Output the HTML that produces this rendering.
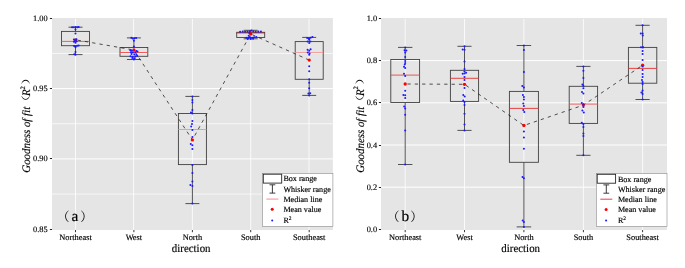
<!DOCTYPE html>
<html lang="en">
<head>
<meta charset="utf-8">
<title>Goodness of fit by direction</title>
<style>
html,body{margin:0;padding:0;background:#fff;}
body{width:685px;height:268px;overflow:hidden;}
svg{display:block;}
text{font-family:"Liberation Serif", "Noto Serif CJK SC", serif;fill:#000;stroke:#000;stroke-width:0.15px;text-rendering:geometricPrecision;}
.tk{font-size:8.35px;}
.xt{font-size:11.4px;}
.yt{font-size:11.4px;font-style:italic;}
.yp{font-size:8.9px;stroke:none;}
.ys{font-size:6.8px;}
.lab{font-size:15.3px;stroke-width:0.2px;}
.par{font-size:12.5px;stroke:none;}
.lg{font-size:8.1px;}
</style>
</head>
<body>
<svg width="685" height="268" viewBox="0 0 685 268">
<rect width="685" height="268" fill="#fff"/>
<g class="panel">
<rect x="52" y="18" width="280.9" height="212" fill="#e5e5e5"/>
<line x1="52" x2="332.9" y1="53.42" y2="53.42" stroke="#ffffff" stroke-width="0.7"/>
<line x1="52" x2="332.9" y1="123.75" y2="123.75" stroke="#ffffff" stroke-width="0.7"/>
<line x1="52" x2="332.9" y1="194.08" y2="194.08" stroke="#ffffff" stroke-width="0.7"/>
<line x1="52" x2="332.9" y1="88.58" y2="88.58" stroke="#ffffff" stroke-width="1"/>
<line x1="52" x2="332.9" y1="158.92" y2="158.92" stroke="#ffffff" stroke-width="1"/>
<line x1="75.5" x2="75.5" y1="19" y2="230" stroke="#ffffff" stroke-width="0.8"/>
<line x1="133.6" x2="133.6" y1="19" y2="230" stroke="#ffffff" stroke-width="0.8"/>
<line x1="192.4" x2="192.4" y1="19" y2="230" stroke="#ffffff" stroke-width="0.8"/>
<line x1="250.7" x2="250.7" y1="19" y2="230" stroke="#ffffff" stroke-width="0.8"/>
<line x1="309" x2="309" y1="19" y2="230" stroke="#ffffff" stroke-width="0.8"/>
<line x1="75.5" x2="75.5" y1="230" y2="232.2" stroke="#222" stroke-width="0.9"/>
<line x1="133.9" x2="133.9" y1="230" y2="232.2" stroke="#222" stroke-width="0.9"/>
<line x1="192.4" x2="192.4" y1="230" y2="232.2" stroke="#222" stroke-width="0.9"/>
<line x1="250.7" x2="250.7" y1="230" y2="232.2" stroke="#222" stroke-width="0.9"/>
<line x1="309.2" x2="309.2" y1="230" y2="232.2" stroke="#222" stroke-width="0.9"/>
<line x1="49.9" x2="52" y1="18.5" y2="18.5" stroke="#222" stroke-width="1"/>
<text x="47.7" y="21.2" text-anchor="end" class="tk">1.00</text>
<line x1="49.9" x2="52" y1="88.5" y2="88.5" stroke="#222" stroke-width="1"/>
<text x="47.7" y="91.2" text-anchor="end" class="tk">0.95</text>
<line x1="49.9" x2="52" y1="158.5" y2="158.5" stroke="#222" stroke-width="1"/>
<text x="47.7" y="161.2" text-anchor="end" class="tk">0.90</text>
<line x1="49.9" x2="52" y1="229.5" y2="229.5" stroke="#222" stroke-width="1"/>
<text x="47.7" y="232.2" text-anchor="end" class="tk">0.85</text>
<text x="75.5" y="239.9" text-anchor="middle" class="tk">Northeast</text>
<text x="133.9" y="239.9" text-anchor="middle" class="tk">West</text>
<text x="192.4" y="239.9" text-anchor="middle" class="tk">North</text>
<text x="250.7" y="239.9" text-anchor="middle" class="tk">South</text>
<text x="309.2" y="239.9" text-anchor="middle" class="tk">Southeast</text>
<text transform="translate(191.2,252.2) scale(0.955,1)" text-anchor="middle" class="xt">direction</text>
<g transform="translate(30,172.1) rotate(-90)">
<text transform="translate(-0.6,0) scale(0.955,1)" class="yt">Goodness of fit</text>
<text transform="translate(63.5,-1.0) scale(1.5,1)" class="yp">（</text>
<text transform="translate(76.2,0) scale(0.955,1)" class="yt">R</text>
<text x="82.6" y="-5.4" class="ys">2</text>
<text transform="translate(87.6,-1.0) scale(1.5,1)" class="yp">）</text>
</g>
<path d="M75.5 27.2V31.4M75.5 45.7V54.6M68.5 27.2H82.5M68.5 54.6H82.5" stroke="#404040" stroke-width="0.9" fill="none"/>
<rect x="61.5" y="31.4" width="28" height="14.3" stroke="#404040" stroke-width="0.9" fill="none"/>
<line x1="61.5" x2="89.5" y1="41.4" y2="41.4" stroke="#f84848" stroke-width="0.9"/>
<path d="M133.9 37.9V47.5M133.9 56.3V59.5M126.95 37.9H140.85M126.95 59.5H140.85" stroke="#404040" stroke-width="0.9" fill="none"/>
<rect x="120" y="47.5" width="27.8" height="8.8" stroke="#404040" stroke-width="0.9" fill="none"/>
<line x1="120" x2="147.8" y1="52.5" y2="52.5" stroke="#f84848" stroke-width="0.9"/>
<path d="M192.4 96.4V113.5M192.4 164.6V203.6M185.4 96.4H199.4M185.4 203.6H199.4" stroke="#404040" stroke-width="0.9" fill="none"/>
<rect x="178.4" y="113.5" width="28" height="51.1" stroke="#404040" stroke-width="0.9" fill="none"/>
<line x1="178.4" x2="206.4" y1="129.5" y2="129.5" stroke="#f79090" stroke-width="0.9"/>
<path d="M250.7 30.3V32.3M250.7 37.5V38.8M243.7 30.3H257.7M243.7 38.8H257.7" stroke="#404040" stroke-width="0.9" fill="none"/>
<rect x="236.7" y="32.3" width="28" height="5.2" stroke="#404040" stroke-width="0.9" fill="none"/>
<line x1="236.7" x2="264.7" y1="32.9" y2="32.9" stroke="#b02020" stroke-width="0.9"/>
<path d="M309.2 37.4V41.6M309.2 79.3V95.4M302.2 37.4H316.2M302.2 95.4H316.2" stroke="#404040" stroke-width="0.9" fill="none"/>
<rect x="295.2" y="41.6" width="28" height="37.7" stroke="#404040" stroke-width="0.9" fill="none"/>
<line x1="295.2" x2="323.2" y1="52.6" y2="52.6" stroke="#f79090" stroke-width="0.9"/>
<polyline points="75.5,39.8 133.9,50 192.4,139.9 250.7,34 309.2,60.1" stroke="#1a1a1a" stroke-width="0.75" stroke-dasharray="3.3 4.06" stroke-dashoffset="-2.2" fill="none"/>
<circle cx="75.5" cy="39.8" r="1.65" fill="#ff0000"/>
<circle cx="133.9" cy="50" r="1.65" fill="#ff0000"/>
<circle cx="192.4" cy="139.9" r="1.65" fill="#ff0000"/>
<circle cx="250.7" cy="34" r="1.65" fill="#ff0000"/>
<circle cx="309.2" cy="60.1" r="1.65" fill="#ff0000"/>
<circle cx="72.1" cy="27.2" r="1.02" fill="#1a1aff"/>
<circle cx="73.9" cy="27.3" r="1.02" fill="#1a1aff"/>
<circle cx="75.7" cy="27" r="1.02" fill="#1a1aff"/>
<circle cx="77.3" cy="27.3" r="1.02" fill="#1a1aff"/>
<circle cx="78.7" cy="27.1" r="1.02" fill="#1a1aff"/>
<circle cx="75.5" cy="29.6" r="1.02" fill="#1a1aff"/>
<circle cx="75.5" cy="33.6" r="1.02" fill="#1a1aff"/>
<circle cx="73.9" cy="39.6" r="1.02" fill="#1a1aff"/>
<circle cx="76.4" cy="39.2" r="1.02" fill="#1a1aff"/>
<circle cx="74.9" cy="41" r="1.02" fill="#1a1aff"/>
<circle cx="76.7" cy="41.3" r="1.02" fill="#1a1aff"/>
<circle cx="73.9" cy="41.8" r="1.02" fill="#1a1aff"/>
<circle cx="75.5" cy="42.8" r="1.02" fill="#1a1aff"/>
<circle cx="74.1" cy="45.9" r="1.02" fill="#1a1aff"/>
<circle cx="75.7" cy="46.3" r="1.02" fill="#1a1aff"/>
<circle cx="77.3" cy="45.7" r="1.02" fill="#1a1aff"/>
<circle cx="78.7" cy="45.5" r="1.02" fill="#1a1aff"/>
<circle cx="75.5" cy="47.3" r="1.02" fill="#1a1aff"/>
<circle cx="75.5" cy="52" r="1.02" fill="#1a1aff"/>
<circle cx="74.3" cy="54.2" r="1.02" fill="#1a1aff"/>
<circle cx="75.5" cy="54.8" r="1.02" fill="#1a1aff"/>
<circle cx="131.3" cy="37.8" r="1.02" fill="#1a1aff"/>
<circle cx="132.7" cy="38.4" r="1.02" fill="#1a1aff"/>
<circle cx="134.5" cy="38.2" r="1.02" fill="#1a1aff"/>
<circle cx="136.1" cy="37.9" r="1.02" fill="#1a1aff"/>
<circle cx="133.9" cy="40.8" r="1.02" fill="#1a1aff"/>
<circle cx="133.9" cy="46.6" r="1.02" fill="#1a1aff"/>
<circle cx="130.3" cy="50.3" r="1.02" fill="#1a1aff"/>
<circle cx="131.9" cy="50.8" r="1.02" fill="#1a1aff"/>
<circle cx="136.3" cy="50.9" r="1.02" fill="#1a1aff"/>
<circle cx="137.5" cy="51.4" r="1.02" fill="#1a1aff"/>
<circle cx="130.9" cy="52.2" r="1.02" fill="#1a1aff"/>
<circle cx="132.9" cy="52.6" r="1.02" fill="#1a1aff"/>
<circle cx="135.3" cy="52.4" r="1.02" fill="#1a1aff"/>
<circle cx="131.5" cy="54" r="1.02" fill="#1a1aff"/>
<circle cx="134.3" cy="54.4" r="1.02" fill="#1a1aff"/>
<circle cx="136.5" cy="54.8" r="1.02" fill="#1a1aff"/>
<circle cx="130.5" cy="56.3" r="1.02" fill="#1a1aff"/>
<circle cx="132.5" cy="56.8" r="1.02" fill="#1a1aff"/>
<circle cx="135.5" cy="56.4" r="1.02" fill="#1a1aff"/>
<circle cx="137.3" cy="56" r="1.02" fill="#1a1aff"/>
<circle cx="132.3" cy="58" r="1.02" fill="#1a1aff"/>
<circle cx="134.7" cy="58.2" r="1.02" fill="#1a1aff"/>
<circle cx="133.9" cy="59.6" r="1.02" fill="#1a1aff"/>
<circle cx="192.4" cy="96.4" r="1.02" fill="#1a1aff"/>
<circle cx="192.4" cy="100" r="1.02" fill="#1a1aff"/>
<circle cx="192.4" cy="102.6" r="1.02" fill="#1a1aff"/>
<circle cx="192.4" cy="110" r="1.02" fill="#1a1aff"/>
<circle cx="191" cy="112.4" r="1.02" fill="#1a1aff"/>
<circle cx="192.4" cy="113.5" r="1.02" fill="#1a1aff"/>
<circle cx="192.4" cy="121" r="1.02" fill="#1a1aff"/>
<circle cx="192" cy="124" r="1.02" fill="#1a1aff"/>
<circle cx="191.2" cy="126.5" r="1.02" fill="#1a1aff"/>
<circle cx="192.4" cy="130" r="1.02" fill="#1a1aff"/>
<circle cx="192.4" cy="137" r="1.02" fill="#1a1aff"/>
<circle cx="190.8" cy="144" r="1.02" fill="#1a1aff"/>
<circle cx="192.4" cy="145.2" r="1.02" fill="#1a1aff"/>
<circle cx="192.4" cy="149" r="1.02" fill="#1a1aff"/>
<circle cx="192.4" cy="165" r="1.02" fill="#1a1aff"/>
<circle cx="192.4" cy="173" r="1.02" fill="#1a1aff"/>
<circle cx="192.4" cy="181.5" r="1.02" fill="#1a1aff"/>
<circle cx="190.4" cy="185" r="1.02" fill="#1a1aff"/>
<circle cx="192.4" cy="186" r="1.02" fill="#1a1aff"/>
<circle cx="192.4" cy="203.6" r="1.02" fill="#1a1aff"/>
<circle cx="240.1" cy="31.7" r="1.02" fill="#1a1aff"/>
<circle cx="242.7" cy="31.4" r="1.02" fill="#1a1aff"/>
<circle cx="245.1" cy="31.8" r="1.02" fill="#1a1aff"/>
<circle cx="247.5" cy="31.5" r="1.02" fill="#1a1aff"/>
<circle cx="249.7" cy="31.2" r="1.02" fill="#1a1aff"/>
<circle cx="251.5" cy="30.5" r="1.02" fill="#1a1aff"/>
<circle cx="253.3" cy="31.3" r="1.02" fill="#1a1aff"/>
<circle cx="255.7" cy="31.8" r="1.02" fill="#1a1aff"/>
<circle cx="258.3" cy="31.5" r="1.02" fill="#1a1aff"/>
<circle cx="260.9" cy="31.4" r="1.02" fill="#1a1aff"/>
<circle cx="249.3" cy="33" r="1.02" fill="#1a1aff"/>
<circle cx="248.7" cy="35.7" r="1.02" fill="#1a1aff"/>
<circle cx="246.3" cy="37.8" r="1.02" fill="#1a1aff"/>
<circle cx="248.3" cy="38" r="1.02" fill="#1a1aff"/>
<circle cx="250.1" cy="37.2" r="1.02" fill="#1a1aff"/>
<circle cx="252.1" cy="37.8" r="1.02" fill="#1a1aff"/>
<circle cx="254.1" cy="37.3" r="1.02" fill="#1a1aff"/>
<circle cx="256.3" cy="36.9" r="1.02" fill="#1a1aff"/>
<circle cx="247.7" cy="38.9" r="1.02" fill="#1a1aff"/>
<circle cx="250.7" cy="39" r="1.02" fill="#1a1aff"/>
<circle cx="253.1" cy="38.7" r="1.02" fill="#1a1aff"/>
<circle cx="307.2" cy="38" r="1.02" fill="#1a1aff"/>
<circle cx="308.8" cy="38.6" r="1.02" fill="#1a1aff"/>
<circle cx="310.6" cy="37.8" r="1.02" fill="#1a1aff"/>
<circle cx="312.4" cy="37" r="1.02" fill="#1a1aff"/>
<circle cx="309.2" cy="39.6" r="1.02" fill="#1a1aff"/>
<circle cx="307.6" cy="41.6" r="1.02" fill="#1a1aff"/>
<circle cx="310.4" cy="41.4" r="1.02" fill="#1a1aff"/>
<circle cx="309.2" cy="43" r="1.02" fill="#1a1aff"/>
<circle cx="310.6" cy="49.2" r="1.02" fill="#1a1aff"/>
<circle cx="307.6" cy="49.8" r="1.02" fill="#1a1aff"/>
<circle cx="309.2" cy="50.8" r="1.02" fill="#1a1aff"/>
<circle cx="307.8" cy="52.6" r="1.02" fill="#1a1aff"/>
<circle cx="309.6" cy="53.4" r="1.02" fill="#1a1aff"/>
<circle cx="309.2" cy="54.8" r="1.02" fill="#1a1aff"/>
<circle cx="309.2" cy="66.3" r="1.02" fill="#1a1aff"/>
<circle cx="309.2" cy="71.3" r="1.02" fill="#1a1aff"/>
<circle cx="309.2" cy="79.3" r="1.02" fill="#1a1aff"/>
<circle cx="309.2" cy="82.7" r="1.02" fill="#1a1aff"/>
<circle cx="309.2" cy="88.2" r="1.02" fill="#1a1aff"/>
<circle cx="308.4" cy="93.6" r="1.02" fill="#1a1aff"/>
<circle cx="310.2" cy="93.2" r="1.02" fill="#1a1aff"/>
<circle cx="309.2" cy="95.4" r="1.02" fill="#1a1aff"/>
<text y="221" class="lab"><tspan x="57" y="220.5" class="par">（</tspan><tspan x="71.5" y="221">a</tspan><tspan x="80.2" y="220.5" class="par">）</tspan></text>
<rect x="262.4" y="173.5" width="70.5" height="52.9" fill="#fff" stroke="#8a8a8a" stroke-width="0.6"/>
<rect x="263.3" y="174.2" width="18.4" height="8.9" fill="#fff" stroke="#262626" stroke-width="0.9"/>
<path d="M272.4 184.8V193.1M269.5 184.8H275.3M269.5 193.1H275.3" stroke="#262626" stroke-width="0.9" fill="none"/>
<line x1="266.4" x2="278.4" y1="199.1" y2="199.1" stroke="#f5a0a0" stroke-width="1.2"/>
<circle cx="272.2" cy="209.3" r="1.5" fill="#ff0000"/>
<circle cx="272.2" cy="220.4" r="1.02" fill="#1a1aff"/>
<text x="283.4" y="181.45" class="lg">Box range</text>
<text x="283.4" y="191.6" class="lg">Whisker range</text>
<text x="283.4" y="201.6" class="lg">Median line</text>
<text x="283.4" y="211.7" class="lg">Mean value</text>
<text x="283.4" y="223" class="lg">R<tspan dy="-3" font-size="5.4">2</tspan></text>
</g>
<g class="panel">
<rect x="381" y="18" width="286" height="212" fill="#e5e5e5"/>
<line x1="381" x2="667" y1="60.6" y2="60.6" stroke="#ffffff" stroke-width="1"/>
<line x1="381" x2="667" y1="102.8" y2="102.8" stroke="#ffffff" stroke-width="1"/>
<line x1="381" x2="667" y1="145" y2="145" stroke="#ffffff" stroke-width="1"/>
<line x1="381" x2="667" y1="187.2" y2="187.2" stroke="#ffffff" stroke-width="1"/>
<line x1="405.2" x2="405.2" y1="19" y2="230" stroke="#ffffff" stroke-width="0.8"/>
<line x1="464.5" x2="464.5" y1="19" y2="230" stroke="#ffffff" stroke-width="0.8"/>
<line x1="523.9" x2="523.9" y1="19" y2="230" stroke="#ffffff" stroke-width="0.8"/>
<line x1="583.4" x2="583.4" y1="19" y2="230" stroke="#ffffff" stroke-width="0.8"/>
<line x1="642.6" x2="642.6" y1="19" y2="230" stroke="#ffffff" stroke-width="0.8"/>
<line x1="405.2" x2="405.2" y1="230" y2="232.2" stroke="#222" stroke-width="0.9"/>
<line x1="464.5" x2="464.5" y1="230" y2="232.2" stroke="#222" stroke-width="0.9"/>
<line x1="523.9" x2="523.9" y1="230" y2="232.2" stroke="#222" stroke-width="0.9"/>
<line x1="583.4" x2="583.4" y1="230" y2="232.2" stroke="#222" stroke-width="0.9"/>
<line x1="642.6" x2="642.6" y1="230" y2="232.2" stroke="#222" stroke-width="0.9"/>
<line x1="378.9" x2="381" y1="18.5" y2="18.5" stroke="#222" stroke-width="1"/>
<text x="377.1" y="21.2" text-anchor="end" class="tk">1.0</text>
<line x1="378.9" x2="381" y1="60.5" y2="60.5" stroke="#222" stroke-width="1"/>
<text x="377.1" y="63.2" text-anchor="end" class="tk">0.8</text>
<line x1="378.9" x2="381" y1="102.5" y2="102.5" stroke="#222" stroke-width="1"/>
<text x="377.1" y="105.2" text-anchor="end" class="tk">0.6</text>
<line x1="378.9" x2="381" y1="145.5" y2="145.5" stroke="#222" stroke-width="1"/>
<text x="377.1" y="148.2" text-anchor="end" class="tk">0.4</text>
<line x1="378.9" x2="381" y1="187.5" y2="187.5" stroke="#222" stroke-width="1"/>
<text x="377.1" y="190.2" text-anchor="end" class="tk">0.2</text>
<line x1="378.9" x2="381" y1="229.5" y2="229.5" stroke="#222" stroke-width="1"/>
<text x="377.1" y="232.2" text-anchor="end" class="tk">0.0</text>
<text x="405.2" y="239.9" text-anchor="middle" class="tk">Northeast</text>
<text x="464.5" y="239.9" text-anchor="middle" class="tk">West</text>
<text x="523.9" y="239.9" text-anchor="middle" class="tk">North</text>
<text x="583.4" y="239.9" text-anchor="middle" class="tk">South</text>
<text x="642.6" y="239.9" text-anchor="middle" class="tk">Southeast</text>
<text transform="translate(520.7,252.2) scale(0.955,1)" text-anchor="middle" class="xt">direction</text>
<g transform="translate(363.5,172.1) rotate(-90)">
<text transform="translate(-0.6,0) scale(0.955,1)" class="yt">Goodness of fit</text>
<text transform="translate(63.5,-1.0) scale(1.5,1)" class="yp">（</text>
<text transform="translate(76.2,0) scale(0.955,1)" class="yt">R</text>
<text x="82.6" y="-5.4" class="ys">2</text>
<text transform="translate(87.6,-1.0) scale(1.5,1)" class="yp">）</text>
</g>
<path d="M405.2 47.4V59.5M405.2 102.5V164.5M398 47.4H412.4M398 164.5H412.4" stroke="#404040" stroke-width="0.9" fill="none"/>
<rect x="390.8" y="59.5" width="28.8" height="43" stroke="#404040" stroke-width="0.9" fill="none"/>
<line x1="390.8" x2="419.6" y1="75.1" y2="75.1" stroke="#e84545" stroke-width="0.9"/>
<path d="M464.5 46.3V70.3M464.5 101.4V130.4M457.45 46.3H471.55M457.45 130.4H471.55" stroke="#404040" stroke-width="0.9" fill="none"/>
<rect x="450.4" y="70.3" width="28.2" height="31.1" stroke="#404040" stroke-width="0.9" fill="none"/>
<line x1="450.4" x2="478.6" y1="78.3" y2="78.3" stroke="#e63030" stroke-width="0.9"/>
<path d="M523.9 45.5V91.4M523.9 162.3V226.9M516.65 45.5H531.15M516.65 226.9H531.15" stroke="#404040" stroke-width="0.9" fill="none"/>
<rect x="509.4" y="91.4" width="29" height="70.9" stroke="#404040" stroke-width="0.9" fill="none"/>
<line x1="509.4" x2="538.4" y1="108.4" y2="108.4" stroke="#e63030" stroke-width="0.9"/>
<path d="M583.4 66.4V86.3M583.4 123.4V155.3M576.3 66.4H590.5M576.3 155.3H590.5" stroke="#404040" stroke-width="0.9" fill="none"/>
<rect x="569.2" y="86.3" width="28.4" height="37.1" stroke="#404040" stroke-width="0.9" fill="none"/>
<line x1="569.2" x2="597.6" y1="104.1" y2="104.1" stroke="#ee5555" stroke-width="0.9"/>
<path d="M642.6 25.3V47.4M642.6 83.2V99.5M635.5 25.3H649.7M635.5 99.5H649.7" stroke="#404040" stroke-width="0.9" fill="none"/>
<rect x="628.4" y="47.4" width="28.4" height="35.8" stroke="#404040" stroke-width="0.9" fill="none"/>
<line x1="628.4" x2="656.8" y1="68.4" y2="68.4" stroke="#e63030" stroke-width="0.9"/>
<polyline points="405.2,84 464.5,84.3 523.9,125.5 583.4,105.1 642.6,65.2" stroke="#1a1a1a" stroke-width="0.75" stroke-dasharray="3.3 4.06" stroke-dashoffset="-2.2" fill="none"/>
<circle cx="405.2" cy="84" r="1.65" fill="#ff0000"/>
<circle cx="464.5" cy="84.3" r="1.65" fill="#ff0000"/>
<circle cx="523.9" cy="125.5" r="1.65" fill="#ff0000"/>
<circle cx="583.4" cy="105.1" r="1.65" fill="#ff0000"/>
<circle cx="642.6" cy="65.2" r="1.65" fill="#ff0000"/>
<circle cx="405.2" cy="47.4" r="1.02" fill="#1a1aff"/>
<circle cx="404.6" cy="50.2" r="1.02" fill="#1a1aff"/>
<circle cx="406.4" cy="50.6" r="1.02" fill="#1a1aff"/>
<circle cx="405.2" cy="52.6" r="1.02" fill="#1a1aff"/>
<circle cx="405.2" cy="57" r="1.02" fill="#1a1aff"/>
<circle cx="405.2" cy="61" r="1.02" fill="#1a1aff"/>
<circle cx="405.2" cy="63" r="1.02" fill="#1a1aff"/>
<circle cx="404.8" cy="64.6" r="1.02" fill="#1a1aff"/>
<circle cx="404" cy="66.8" r="1.02" fill="#1a1aff"/>
<circle cx="405.2" cy="68" r="1.02" fill="#1a1aff"/>
<circle cx="404" cy="73.8" r="1.02" fill="#1a1aff"/>
<circle cx="405.2" cy="76" r="1.02" fill="#1a1aff"/>
<circle cx="405.2" cy="90.7" r="1.02" fill="#1a1aff"/>
<circle cx="403.4" cy="95" r="1.02" fill="#1a1aff"/>
<circle cx="405.2" cy="95.2" r="1.02" fill="#1a1aff"/>
<circle cx="405.2" cy="98" r="1.02" fill="#1a1aff"/>
<circle cx="404.2" cy="106.6" r="1.02" fill="#1a1aff"/>
<circle cx="405.2" cy="108.6" r="1.02" fill="#1a1aff"/>
<circle cx="405.2" cy="114.7" r="1.02" fill="#1a1aff"/>
<circle cx="405.2" cy="130.5" r="1.02" fill="#1a1aff"/>
<circle cx="405.2" cy="164.5" r="1.02" fill="#1a1aff"/>
<circle cx="464.5" cy="46.3" r="1.02" fill="#1a1aff"/>
<circle cx="462.7" cy="49.6" r="1.02" fill="#1a1aff"/>
<circle cx="464.5" cy="49.8" r="1.02" fill="#1a1aff"/>
<circle cx="464.5" cy="61.5" r="1.02" fill="#1a1aff"/>
<circle cx="464.5" cy="69" r="1.02" fill="#1a1aff"/>
<circle cx="464.5" cy="71.5" r="1.02" fill="#1a1aff"/>
<circle cx="462.7" cy="73.8" r="1.02" fill="#1a1aff"/>
<circle cx="464.5" cy="73.4" r="1.02" fill="#1a1aff"/>
<circle cx="466.1" cy="72.8" r="1.02" fill="#1a1aff"/>
<circle cx="464.5" cy="77" r="1.02" fill="#1a1aff"/>
<circle cx="464.5" cy="80" r="1.02" fill="#1a1aff"/>
<circle cx="464.5" cy="88" r="1.02" fill="#1a1aff"/>
<circle cx="463.3" cy="95" r="1.02" fill="#1a1aff"/>
<circle cx="464.7" cy="96.4" r="1.02" fill="#1a1aff"/>
<circle cx="463.3" cy="100.5" r="1.02" fill="#1a1aff"/>
<circle cx="464.5" cy="102" r="1.02" fill="#1a1aff"/>
<circle cx="464.5" cy="105" r="1.02" fill="#1a1aff"/>
<circle cx="464.5" cy="113.8" r="1.02" fill="#1a1aff"/>
<circle cx="464.5" cy="124.5" r="1.02" fill="#1a1aff"/>
<circle cx="464.5" cy="130.4" r="1.02" fill="#1a1aff"/>
<circle cx="523.9" cy="45.5" r="1.02" fill="#1a1aff"/>
<circle cx="523.9" cy="50" r="1.02" fill="#1a1aff"/>
<circle cx="523.9" cy="72" r="1.02" fill="#1a1aff"/>
<circle cx="522.3" cy="86" r="1.02" fill="#1a1aff"/>
<circle cx="523.9" cy="87.4" r="1.02" fill="#1a1aff"/>
<circle cx="522.9" cy="95" r="1.02" fill="#1a1aff"/>
<circle cx="523.9" cy="97" r="1.02" fill="#1a1aff"/>
<circle cx="523.9" cy="99.6" r="1.02" fill="#1a1aff"/>
<circle cx="523.3" cy="103.4" r="1.02" fill="#1a1aff"/>
<circle cx="523.9" cy="106" r="1.02" fill="#1a1aff"/>
<circle cx="523.3" cy="110" r="1.02" fill="#1a1aff"/>
<circle cx="524.3" cy="112" r="1.02" fill="#1a1aff"/>
<circle cx="523.9" cy="131.5" r="1.02" fill="#1a1aff"/>
<circle cx="523.9" cy="137.5" r="1.02" fill="#1a1aff"/>
<circle cx="523.9" cy="148.8" r="1.02" fill="#1a1aff"/>
<circle cx="522.5" cy="177" r="1.02" fill="#1a1aff"/>
<circle cx="523.9" cy="178.2" r="1.02" fill="#1a1aff"/>
<circle cx="522.7" cy="220.6" r="1.02" fill="#1a1aff"/>
<circle cx="523.9" cy="222" r="1.02" fill="#1a1aff"/>
<circle cx="523.9" cy="226.9" r="1.02" fill="#1a1aff"/>
<circle cx="583.4" cy="66.4" r="1.02" fill="#1a1aff"/>
<circle cx="583.4" cy="70.8" r="1.02" fill="#1a1aff"/>
<circle cx="583.4" cy="78" r="1.02" fill="#1a1aff"/>
<circle cx="582.4" cy="84.6" r="1.02" fill="#1a1aff"/>
<circle cx="583.4" cy="86" r="1.02" fill="#1a1aff"/>
<circle cx="583.4" cy="88.2" r="1.02" fill="#1a1aff"/>
<circle cx="582" cy="92" r="1.02" fill="#1a1aff"/>
<circle cx="583.4" cy="93.6" r="1.02" fill="#1a1aff"/>
<circle cx="581.8" cy="103" r="1.02" fill="#1a1aff"/>
<circle cx="583.4" cy="104.2" r="1.02" fill="#1a1aff"/>
<circle cx="583.4" cy="107" r="1.02" fill="#1a1aff"/>
<circle cx="582.4" cy="110.4" r="1.02" fill="#1a1aff"/>
<circle cx="583.8" cy="112.4" r="1.02" fill="#1a1aff"/>
<circle cx="581.8" cy="122.8" r="1.02" fill="#1a1aff"/>
<circle cx="583.4" cy="124" r="1.02" fill="#1a1aff"/>
<circle cx="583.4" cy="127" r="1.02" fill="#1a1aff"/>
<circle cx="583.4" cy="133.5" r="1.02" fill="#1a1aff"/>
<circle cx="583.4" cy="136" r="1.02" fill="#1a1aff"/>
<circle cx="583.4" cy="155.2" r="1.02" fill="#1a1aff"/>
<circle cx="642.6" cy="25.3" r="1.02" fill="#1a1aff"/>
<circle cx="640.8" cy="33.4" r="1.02" fill="#1a1aff"/>
<circle cx="642.6" cy="33.6" r="1.02" fill="#1a1aff"/>
<circle cx="642.8" cy="35.4" r="1.02" fill="#1a1aff"/>
<circle cx="641" cy="47.3" r="1.02" fill="#1a1aff"/>
<circle cx="642.6" cy="47.4" r="1.02" fill="#1a1aff"/>
<circle cx="643.2" cy="47.3" r="1.02" fill="#1a1aff"/>
<circle cx="642.6" cy="51" r="1.02" fill="#1a1aff"/>
<circle cx="642.6" cy="54" r="1.02" fill="#1a1aff"/>
<circle cx="642.6" cy="60" r="1.02" fill="#1a1aff"/>
<circle cx="642.6" cy="66.5" r="1.02" fill="#1a1aff"/>
<circle cx="642.6" cy="70" r="1.02" fill="#1a1aff"/>
<circle cx="642.6" cy="74" r="1.02" fill="#1a1aff"/>
<circle cx="642.6" cy="77" r="1.02" fill="#1a1aff"/>
<circle cx="642" cy="80" r="1.02" fill="#1a1aff"/>
<circle cx="642.6" cy="82" r="1.02" fill="#1a1aff"/>
<circle cx="642.6" cy="84" r="1.02" fill="#1a1aff"/>
<circle cx="642.6" cy="90.5" r="1.02" fill="#1a1aff"/>
<circle cx="641.4" cy="92.5" r="1.02" fill="#1a1aff"/>
<circle cx="642.6" cy="94" r="1.02" fill="#1a1aff"/>
<circle cx="642.6" cy="99.5" r="1.02" fill="#1a1aff"/>
<text y="221" class="lab"><tspan x="387.1" y="220.5" class="par">（</tspan><tspan x="401.6" y="221">b</tspan><tspan x="410.3" y="220.5" class="par">）</tspan></text>
<rect x="596.3" y="173.6" width="70.7" height="52.8" fill="#fff" stroke="#8a8a8a" stroke-width="0.6"/>
<rect x="597.2" y="174.3" width="18.4" height="8.9" fill="#fff" stroke="#262626" stroke-width="0.9"/>
<path d="M606.3 184.9V193.2M603.4 184.9H609.2M603.4 193.2H609.2" stroke="#262626" stroke-width="0.9" fill="none"/>
<line x1="600.3" x2="612.3" y1="199.2" y2="199.2" stroke="#e22e2e" stroke-width="0.9"/>
<circle cx="606.1" cy="209.4" r="1.5" fill="#ff0000"/>
<circle cx="606.1" cy="220.5" r="1.02" fill="#1a1aff"/>
<text x="617.9" y="181.55" class="lg">Box range</text>
<text x="617.9" y="191.7" class="lg">Whisker range</text>
<text x="617.9" y="201.7" class="lg">Median line</text>
<text x="617.9" y="211.8" class="lg">Mean value</text>
<text x="617.9" y="223.1" class="lg">R<tspan dy="-3" font-size="5.4">2</tspan></text>
</g>
</svg>
</body>
</html>
